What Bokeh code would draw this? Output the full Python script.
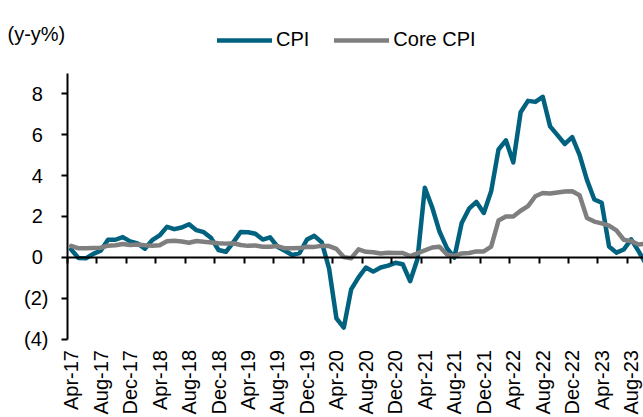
import math
from bokeh.plotting import figure
from bokeh.models import (LinearAxis, FixedTicker, Range1d, Legend, LegendItem,
                          Label, ColumnDataSource)
from bokeh.embed import file_html
from bokeh.resources import INLINE

# ---- data (monthly, Apr-17 .. Oct-23) ----
cpi = [0.38, -0.04, -0.05, 0.17, 0.32, 0.86, 0.86, 0.99, 0.78,
       0.68, 0.42, 0.84, 1.07, 1.49, 1.38, 1.46, 1.62, 1.33, 1.23, 0.94, 0.36,
       0.27, 0.73, 1.24, 1.23, 1.15, 0.87, 0.98, 0.52, 0.32, 0.11, 0.21, 0.87,
       1.05, 0.74, -0.54, -2.99, -3.44, -1.57, -0.98, -0.50, -0.70, -0.50, -0.41, -0.27,
       -0.34, -1.17, -0.08, 3.41, 2.44, 1.25, 0.45, -0.02, 1.68, 2.38, 2.71, 2.17,
       3.23, 5.28, 5.73, 4.65, 7.10, 7.66, 7.61, 7.86, 6.41, 5.98, 5.55, 5.89,
       5.02, 3.79, 2.83, 2.67, 0.53, 0.23, 0.38, 0.88, 0.30, -0.31]
core_cpi = [0.56, 0.44, 0.44, 0.46, 0.47, 0.57, 0.59, 0.65, 0.60,
            0.63, 0.59, 0.57, 0.59, 0.79, 0.81, 0.77, 0.71, 0.80, 0.76, 0.73, 0.69,
            0.67, 0.69, 0.60, 0.56, 0.58, 0.52, 0.52, 0.55, 0.44, 0.44, 0.45, 0.52,
            0.51, 0.56, 0.55, 0.41, 0.01, -0.05, 0.39, 0.27, 0.25, 0.19, 0.22, 0.21,
            0.21, 0.06, 0.20, 0.34, 0.48, 0.52, 0.14, 0.07, 0.19, 0.21, 0.29, 0.29,
            0.52, 1.80, 2.00, 2.00, 2.28, 2.51, 2.99, 3.15, 3.12, 3.17, 3.22, 3.23,
            3.04, 1.93, 1.75, 1.66, 1.55, 1.32, 0.86, 0.79, 0.63, 0.66]
month_idx = list(range(len(cpi)))

x_tick_labels = ["Apr-17", "Aug-17", "Dec-17", "Apr-18", "Aug-18", "Dec-18",
                 "Apr-19", "Aug-19", "Dec-19", "Apr-20", "Aug-20", "Dec-20",
                 "Apr-21", "Aug-21", "Dec-21", "Apr-22", "Aug-22", "Dec-22",
                 "Apr-23", "Aug-23"]
x_label_pos = [4 * k for k in range(len(x_tick_labels))]
x_boundaries = [4 * k - 0.5 for k in range(len(x_tick_labels) + 1)]
y_ticks = [-4, -2, 0, 2, 4, 6, 8]
y_tick_labels = ["(4)", "(2)", "0\u00a0", "2\u00a0", "4\u00a0", "6\u00a0", "8\u00a0"]
y_min, y_max = -4, 9

FONT = "Liberation Sans"
FS = "20px"
TEAL = "#00627F"
GREY = "#7F7F7F"

W, H = 643, 417
# plot-area geometry in pixels (axes are drawn at fixed locations inside the canvas)
left_px, top_px, bottom_px = 67, 73, 338.5
px_per_month = 7.368
px_per_unit = (bottom_px - top_px) / (y_max - y_min)
x0 = -0.5 - left_px / px_per_month
x1 = x0 + W / px_per_month
y1 = y_max + top_px / px_per_unit
y0 = y_min - (H - bottom_px) / px_per_unit

src = ColumnDataSource(dict(x=month_idx, cpi=cpi, core=core_cpi))

p = figure(width=W, height=H, output_backend="svg", toolbar_location=None,
           x_axis_type=None, y_axis_type=None,
           x_range=Range1d(x0, x1), y_range=Range1d(y0, y1),
           min_border=0)
p.outline_line_color = None
p.background_fill_color = "white"
p.border_fill_color = "white"

r_cpi = p.line("x", "cpi", source=src, line_color=TEAL, line_width=4.5,
               line_join="round", line_cap="round")
r_core = p.line("x", "core", source=src, line_color=GREY, line_width=4.5,
                line_join="round", line_cap="round")

# y axis at the left edge of the plot area
yax = LinearAxis(fixed_location=-0.5, bounds=(y_min, y_max),
                 ticker=FixedTicker(ticks=y_ticks, minor_ticks=[]))
yax.major_label_overrides = {t: l for t, l in zip(y_ticks, y_tick_labels)}
yax.axis_line_width = 2
yax.axis_line_color = "black"
yax.major_tick_line_width = 2
yax.major_tick_out = 6
yax.major_tick_in = 0
yax.minor_tick_line_color = None
yax.major_label_standoff = 13
yax.major_label_text_font = FONT
yax.major_label_text_font_size = FS
yax.major_label_text_color = "black"
p.add_layout(yax, "left")

# x labels below the plot area
xlab = LinearAxis(fixed_location=y_min, ticker=FixedTicker(ticks=x_label_pos, minor_ticks=[]))
xlab.major_label_overrides = {t: l for t, l in zip(x_label_pos, x_tick_labels)}
xlab.axis_line_color = None
xlab.major_tick_line_color = None
xlab.minor_tick_line_color = None
xlab.major_tick_out = 0
xlab.major_tick_in = 0
xlab.major_label_standoff = 11
xlab.major_label_orientation = math.pi / 2
xlab.major_label_text_font = FONT
xlab.major_label_text_font_size = FS
xlab.major_label_text_color = "black"
p.add_layout(xlab, "below")

# x axis line at zero with tick marks between categories (no labels)
xzero = LinearAxis(fixed_location=0, bounds=(-0.5, x1 + 1),
                   ticker=FixedTicker(ticks=x_boundaries, minor_ticks=[]))
xzero.axis_line_width = 2
xzero.axis_line_color = "black"
xzero.major_tick_line_width = 2
xzero.major_tick_out = 6
xzero.major_tick_in = 0
xzero.minor_tick_line_color = None
xzero.major_label_text_color = None
xzero.major_label_standoff = 0
p.add_layout(xzero, "below")

legend = Legend(items=[LegendItem(label="CPI", renderers=[r_cpi]),
                       LegendItem(label="Core CPI", renderers=[r_core])],
                location=(217, 366), orientation="horizontal",
                glyph_width=55, glyph_height=22, label_height=22,
                label_standoff=4, spacing=25, padding=0, margin=0,
                border_line_color=None, background_fill_alpha=0,
                label_text_font=FONT, label_text_font_size=FS,
                label_text_color="black")
p.add_layout(legend)

p.add_layout(Label(x=7, y=384, x_units="screen", y_units="screen",
                   text="(y-y%)", text_font=FONT, text_font_size=FS,
                   text_color="black", text_baseline="alphabetic"))

open("out.html", "w").write(file_html(p, INLINE))
